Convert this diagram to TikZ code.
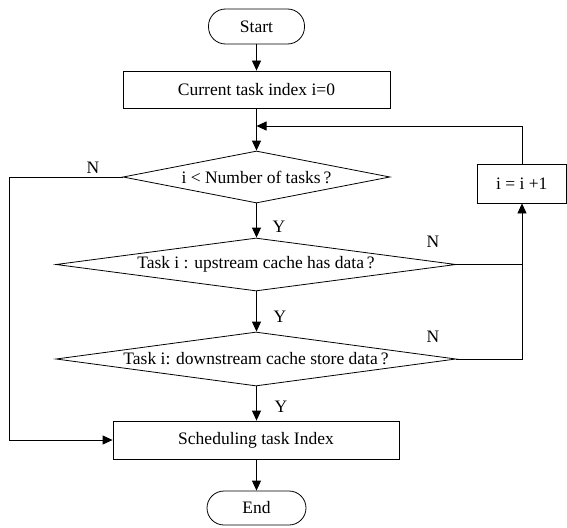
\documentclass[tikz,border=0pt]{standalone}
\usepackage{fontspec}
\setmainfont{Liberation Serif}
\usetikzlibrary{shapes.geometric,arrows.meta}
\begin{document}
\begin{tikzpicture}[x=1pt,y=-1pt,
  font=\fontsize{17.5}{20}\selectfont,
  every path/.style={line width=0.8pt},
  proc/.style={draw,rectangle,inner sep=0pt,minimum width=#1,minimum height=37pt},
  term/.style={draw,rectangle,rounded corners=17pt,inner sep=0pt,minimum height=35pt,minimum width=#1},
  decide/.style={draw,diamond,inner sep=0pt,minimum width=#1,minimum height=53pt},
  flow/.style={-{Triangle[length=10pt,width=9pt]}},
  tag/.style={inner sep=0pt}]
\useasboundingbox (0,0) rectangle (567,527);

% main column
\node[term=96pt] (start) at (256.5,26.5) {Start};
\node[proc=267pt] (init) at (256.5,89.5) {Current task index i=0};
\node[decide=267pt,minimum height=52pt] (d1) at (256.5,177) {};
\node at (d1) {i < Number of tasks\,?};
\node[decide=400pt] (d2) at (256,264.5) {};
\node at (d2) {Task i : upstream cache has data\,?};
\node[decide=400pt,minimum height=54pt] (d3) at (256,359) {};
\node at (d3) {Task i: downstream cache store data\,?};
\node[proc=286pt,minimum height=38pt] (sched) at (256,440) {Scheduling task Index};
\node[term=99pt,minimum height=34pt] (end) at (256.5,508) {End};

% increment box on the right
\node[proc=89.5pt,minimum height=39pt] (inc) at (521.75,183.5) {i = i +1};

% routing points
\coordinate (join) at (256.5,126);
\coordinate (loop) at (522,126);
\coordinate (n2) at (522,264.5);
\coordinate (n3) at (522,359);
\coordinate (ltop) at (9,177);
\coordinate (lbot) at (9,440);

% connectors
\draw[flow] (start) -- (init);
\draw[flow] (init) -- (d1);
\draw[flow] (inc.north -| loop) -- (loop) -- (join);
\draw[flow] (d1) -- (d2.north -| d1);
\draw[flow] (d2.south -| d1) -- (d3.north -| d1);
\draw[flow] (d3.south -| d1) -- (sched.north -| d1);
\draw[flow] (sched.south -| end) -- (end);
\draw[flow] (d2.east) -- (n2) -- (inc.south -| n2);
\draw (d3.east) -- (n3) -- (n2);
\draw[flow] (d1.west) -- (ltop) -- (lbot) -- (sched.west);

% branch labels
\node[tag] (tn1) at (93,168) {N};
\node[tag] (ty1) at (279,227) {Y};
\node[tag] (tn2) at (433,242) {N};
\node[tag] (ty2) at (280,317) {Y};
\node[tag] (tn3) at (433,337) {N};
\node[tag] (ty3) at (281,407) {Y};
\end{tikzpicture}
\end{document}
